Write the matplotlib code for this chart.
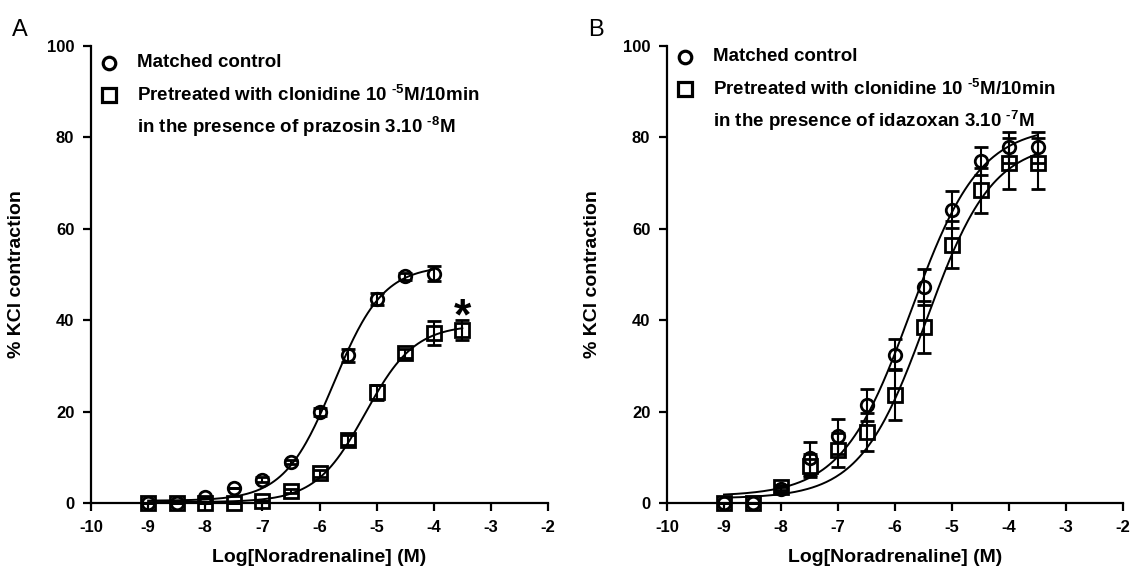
import numpy as np
import matplotlib
matplotlib.use("Agg")
import matplotlib.pyplot as plt

plt.rcParams['font.family'] = ['Liberation Sans', 'DejaVu Sans']
plt.rcParams['font.weight'] = 'bold'
plt.rcParams['axes.unicode_minus'] = False
plt.rcParams['mathtext.fontset'] = 'custom'
plt.rcParams['mathtext.rm'] = 'Liberation Sans:bold'
plt.rcParams['mathtext.bf'] = 'Liberation Sans:bold'

# log[noradrenaline] doses
dose_ctrl_a = [-9, -8.5, -8, -7.5, -7, -6.5, -6, -5.5, -5, -4.5, -4]
dose_full = [-9, -8.5, -8, -7.5, -7, -6.5, -6, -5.5, -5, -4.5, -4, -3.5]

# panel A (prazosin)
ctrl_a = [0, 0, 1.3, 3.3, 5.1, 9.0, 19.9, 32.3, 44.6, 49.6, 50.2]
ctrl_a_err = [0, 0, 0, 0, 0.5, 0.5, 0.8, 1.5, 1.3, 0.8, 1.6]
pre_a = [0, 0, 0, 0, 0.5, 2.6, 6.5, 13.8, 24.2, 32.8, 37.2, 37.8]
pre_a_err = [0, 0, 0, 0, 0, 0.5, 0.8, 1.0, 1.6, 1.0, 2.6, 2.2]

# panel B (idazoxan)
ctrl_b = [0, 0, 3.0, 9.8, 14.6, 21.4, 32.4, 47.3, 64.2, 74.8, 77.8, 77.8]
ctrl_b_err = [0, 0, 0.5, 3.6, 3.8, 3.5, 3.4, 4.0, 4.0, 3.0, 3.3, 3.3]
pre_b = [0, 0, 3.4, 8.2, 11.6, 15.5, 23.7, 38.5, 56.5, 68.4, 74.3, 74.3]
pre_b_err = [0, 0, 0.5, 2.5, 3.7, 4.2, 5.6, 5.7, 5.1, 4.9, 5.6, 5.6]

# fitted sigmoid parameters (bottom, top, logEC50, hill)
fit_ctrl_a = (0.5, 52.0, -5.75, 1.0)
fit_pre_a = (0.2, 39.0, -5.2, 1.0)
fit_ctrl_b = (1.5, 82.5, -5.72, 0.72)
fit_pre_b = (1.0, 79.0, -5.45, 0.75)

xticks = [-10, -9, -8, -7, -6, -5, -4, -3, -2]
yticks = [0, 20, 40, 60, 80, 100]


def hill(x, bottom, top, logec50, slope):
    return bottom + (top - bottom) / (1 + 10 ** ((logec50 - x) * slope))


def draw_series(ax, x, y, err, marker, ms, fit):
    xs = np.linspace(x[0], x[-1], 200)
    ax.plot(xs, hill(xs, *fit), color='black', lw=1.4, clip_on=False)
    ax.errorbar(x, y, yerr=err, fmt=marker, ms=ms, mfc='none', mec='black',
                mew=2.0, ecolor='black', elinewidth=1.5, capsize=5,
                capthick=1.5, clip_on=False, zorder=3)


def style_axes(ax):
    ax.set_xlim(-10, -2)
    ax.set_ylim(0, 100)
    ax.set_xticks(xticks)
    ax.set_yticks(yticks)
    for s in ['top', 'right']:
        ax.spines[s].set_visible(False)
    for s in ['left', 'bottom']:
        ax.spines[s].set_linewidth(1.6)
    ax.tick_params(direction='out', length=6, width=1.6, labelsize=12, pad=6)
    ax.set_xlabel('Log[Noradrenaline] (M)', fontsize=14, fontweight='bold')
    ax.set_ylabel('% KCl contraction', fontsize=14, fontweight='bold')
    ax.xaxis.set_label_coords(0.5, -0.10)
    ax.yaxis.set_label_coords(-0.145, 0.5)


def draw_key(ax, drug_text, y0):
    ax.plot(0.039, y0, 'o', ms=9, mfc='none', mec='black', mew=2.3,
            transform=ax.transAxes, clip_on=False)
    ax.plot(0.039, y0 - 0.07, 's', ms=10, mfc='none', mec='black', mew=2.3,
            transform=ax.transAxes, clip_on=False)
    kw = dict(transform=ax.transAxes, fontsize=13.5, fontweight='bold',
              va='center', ha='left')
    ax.text(0.101, y0, 'Matched control', **kw)
    ax.text(0.101, y0 - 0.07,
            r'Pretreated with clonidine 10 $^{\text{-5}}$M/10min', **kw)
    ax.text(0.101, y0 - 0.14, drug_text, **kw)


fig = plt.figure(figsize=(11.31, 5.72), dpi=100)
ax_a = fig.add_axes([91 / 1131, 1 - 503 / 572, 457 / 1131, 457 / 572])
ax_b = fig.add_axes([667 / 1131, 1 - 503 / 572, 456 / 1131, 457 / 572])

draw_series(ax_a, dose_ctrl_a, ctrl_a, ctrl_a_err, 'o', 9, fit_ctrl_a)
draw_series(ax_a, dose_full, pre_a, pre_a_err, 's', 10, fit_pre_a)
ax_a.text(dose_full[-1], 40.5, '*', fontsize=32, fontweight='bold',
          ha='center', va='center')
style_axes(ax_a)
draw_key(ax_a, r'in the presence of prazosin 3.10 $^{\text{-8}}$M', 0.963)

draw_series(ax_b, dose_full, ctrl_b, ctrl_b_err, 'o', 9, fit_ctrl_b)
draw_series(ax_b, dose_full, pre_b, pre_b_err, 's', 10, fit_pre_b)
style_axes(ax_b)
draw_key(ax_b, r'in the presence of idazoxan 3.10 $^{\text{-7}}$M', 0.976)

fig.text(20 / 1131, 1 - 30 / 572, 'A', fontsize=17, fontweight='normal',
         ha='center', va='center')
fig.text(596 / 1131, 1 - 30 / 572, 'B', fontsize=17, fontweight='normal',
         ha='center', va='center')

fig.savefig('out.png', dpi=100)
